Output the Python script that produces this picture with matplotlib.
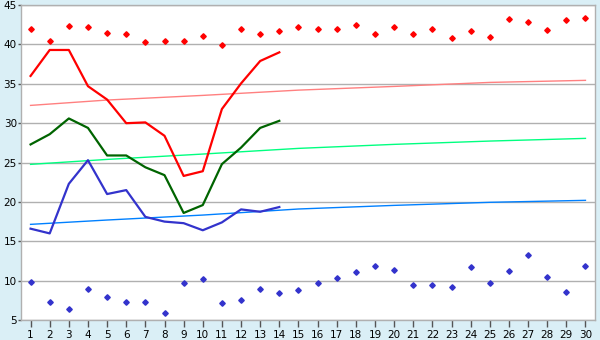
import matplotlib
matplotlib.use("Agg")
import matplotlib.pyplot as plt

days = list(range(1, 31))

red_max = [42.0, 40.5, 42.3, 42.2, 41.5, 41.3, 40.3, 40.4, 40.4, 41.1,
           39.9, 42.0, 41.3, 41.7, 42.2, 42.0, 42.0, 42.5, 41.3, 42.2,
           41.3, 42.0, 40.8, 41.7, 41.0, 43.2, 42.8, 41.9, 43.05, 43.3]
blue_min = [9.8, 7.3, 6.35, 8.9, 7.9, 7.25, 7.3, 5.95, 9.75, 10.15,
            7.1, 7.6, 8.9, 8.4, 8.75, 9.65, 10.3, 11.05, 11.8, 11.4,
            9.5, 9.5, 9.15, 11.7, 9.65, 11.2, 13.2, 10.4, 8.5, 11.8]

line_days = list(range(1, 15))
red_line = [36.0, 39.3, 39.3, 34.7, 33.0, 30.0, 30.1, 28.4, 23.3, 23.9,
            31.8, 35.05, 37.9, 39.0]
green_line = [27.3, 28.6, 30.6, 29.4, 25.9, 25.9, 24.4, 23.4, 18.6, 19.6,
              24.8, 26.9, 29.4, 30.3]
blue_line = [16.6, 16.0, 22.3, 25.3, 21.0, 21.5, 18.1, 17.5, 17.3, 16.4,
             17.4, 19.05, 18.75, 19.35]

trend_days = [1, 5, 10, 15, 20, 25, 30]
red_trend = [32.26, 32.94, 33.53, 34.2, 34.67, 35.18, 35.44]
green_trend = [24.77, 25.4, 26.08, 26.8, 27.31, 27.73, 28.07]
blue_trend = [17.15, 17.7, 18.33, 19.1, 19.56, 19.95, 20.2]

y_ticks = [5, 10, 15, 20, 25, 30, 35, 40, 45]

bg = "#DAEFF6"
grid_c = "#B0B0B0"

fig = plt.figure(figsize=(6, 3.4), dpi=100, facecolor=bg)
ax = fig.add_axes([0.035, 0.0588, 0.9567, 0.9262])
ax.set_facecolor("white")

for v in y_ticks:
    ax.axhline(v, color=grid_c, lw=1.0, zorder=0)

ax.plot(trend_days, red_trend, color="#FF8080", lw=1.0, zorder=2)
ax.plot(trend_days, green_trend, color="#00FF80", lw=1.0, zorder=2)
ax.plot(trend_days, blue_trend, color="#0080FF", lw=1.0, zorder=2)

ax.plot(line_days, red_line, color="#FF0000", lw=1.6, zorder=3)
ax.plot(line_days, green_line, color="#006400", lw=1.6, zorder=3)
ax.plot(line_days, blue_line, color="#3333CC", lw=1.6, zorder=3)

ax.plot(days, red_max, linestyle="none", marker="D", markersize=2.8,
        color="#FF0000", zorder=4)
ax.plot(days, blue_min, linestyle="none", marker="D", markersize=2.8,
        color="#3333CC", zorder=4)

ax.set_xlim(0.5, 30.5)
ax.set_ylim(5, 45)
ax.set_xticks(days)
ax.set_xticklabels([str(d) for d in days])
ax.set_yticks(y_ticks)
ax.set_yticklabels([str(v) for v in y_ticks])

for s in ax.spines.values():
    s.set_color(grid_c)
    s.set_linewidth(1.0)

ax.tick_params(axis="x", direction="out", length=5, width=1, color="#555555",
               labelsize=7.5, pad=2, labelcolor="black")
ax.tick_params(axis="y", direction="out", length=2, width=1, color="#555555",
               labelsize=7.5, pad=1, labelcolor="black")

fig.savefig("out.png", dpi=100, facecolor=bg)
